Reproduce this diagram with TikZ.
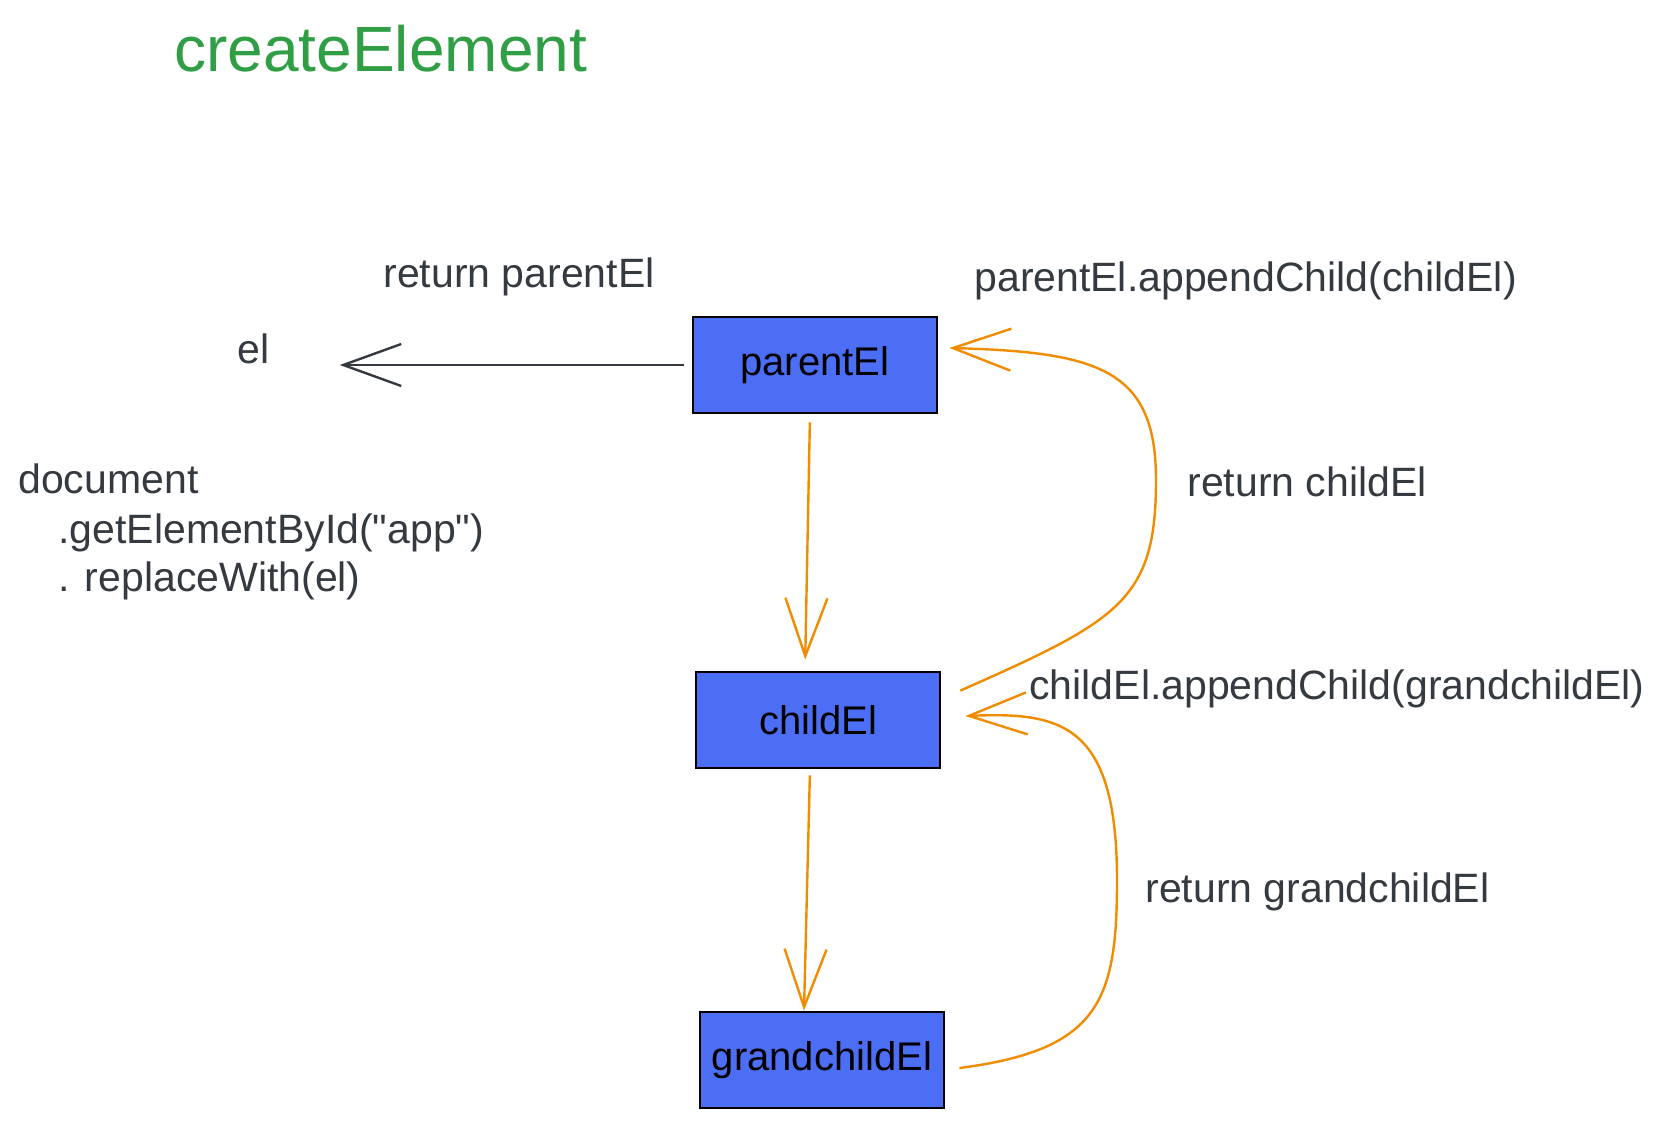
\documentclass[tikz,border=0pt]{standalone}
\usepackage{fontspec}
\setmainfont{Liberation Sans}[Ligatures=TeXOff]
\usetikzlibrary{arrows.meta,calc}
\definecolor{inkgray}{HTML}{343A40}
\definecolor{boxblue}{HTML}{4C6EF5}
\definecolor{floworange}{HTML}{F08C00}
\definecolor{titlegreen}{HTML}{2F9E44}
\begin{document}
\begin{tikzpicture}[x=0.5pt,y=-0.5pt,
    elbox/.style={draw=black, line width=1.4pt, fill=boxblue, minimum width=122pt, minimum height=48pt, inner sep=0pt, font=\fontsize{20}{24}\selectfont},
    txt/.style={anchor=base west, inner sep=0pt, text=inkgray, font=\fontsize{20.5}{24}\selectfont},
    barb/.style={-{Straight Barb[length=29pt,width=21pt]}, line width=1.2pt},
    flow/.style={barb, draw=floworange}]
    % page
    \useasboundingbox[fill=white] (0,0) rectangle (1655,1128);

    % title
    \node[txt, text=titlegreen, font=\fontsize{32}{38}\selectfont] (title) at (174,72) {createElement};

    % element boxes
    \node[elbox] (parent) at (815,365) {parentEl};
    \node[elbox] (child) at (818,720) {childEl};
    \node[elbox] (grandchild) at (822,1060) {grandchildEl};

    % left side
    \node[txt] (el) at (237,364) {el};
    \node[txt] (retparent) at (383,288) {return parentEl};
    \node[txt] (doc) at (18,494) {document};
    \node[txt] (getid) at (58,544) {.getElementById("app")};
    \node[txt] (replace) at (58,591) {. replaceWith(el)};
    \draw[barb, draw=inkgray, shorten <=4pt, shorten >=35pt] (parent.west) -- (parent.west -| el.east);

    % right side labels
    \node[txt] (appchild) at (974,292) {parentEl.appendChild(childEl)};
    \node[txt] (retchild) at (1187,496) {return childEl};
    \node[txt] (appgrand) at (1029,699) {childEl.appendChild(grandchildEl)};
    \node[txt] (retgrand) at (1145,902) {return grandchildEl};

    % calls going down
    \draw[flow, shorten <=4pt, shorten >=5.5pt] ([xshift=-2.5pt]parent.south) -- ([xshift=-6.5pt]child.north);
    \draw[flow, shorten <=3pt] ([xshift=-4pt]child.south) -- ([xshift=-9pt]grandchild.north);

    % returns going up
    \draw[flow] ($(child.north east)+(19,20)$) .. controls (1120,620) and (1156,600) .. (1156,480)
        .. controls (1156,370) and (1100,352) .. ($(parent.east)+(11,-17)$);
    \draw[flow] ($(grandchild.east)+(14,8)$) .. controls (1100,1050) and (1117,1000) .. (1117,880)
        .. controls (1117,722) and (1060,712) .. ($(child.east)+(24,-4)$);
\end{tikzpicture}
\end{document}
